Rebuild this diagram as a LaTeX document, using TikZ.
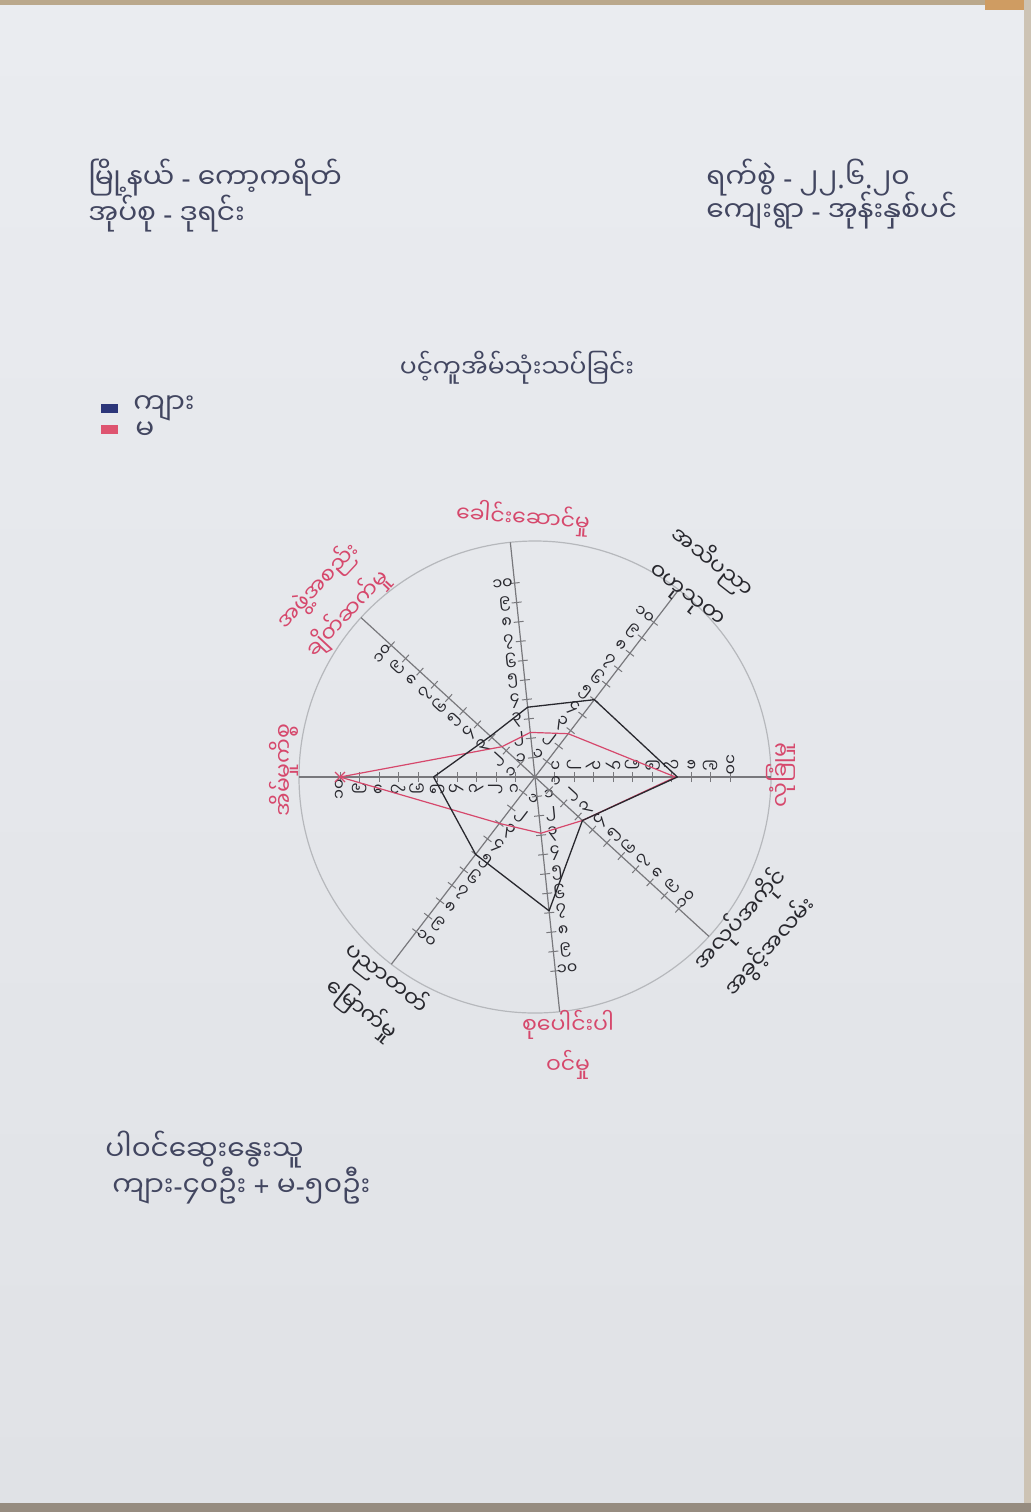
\documentclass[tikz,border=0pt]{standalone}
\usepackage{fontspec}
\usetikzlibrary{calc}
\newfontfamily\mm[Script=Myanmar]{Noto Sans Myanmar UI}
\newfontfamily\lat{Noto Sans}
\definecolor{papertop}{RGB}{234,236,240}
\definecolor{paperbot}{RGB}{224,226,230}
\definecolor{ink}{RGB}{66,70,96}
\definecolor{redink}{RGB}{214,72,108}
\definecolor{pencil}{RGB}{120,120,124}
\definecolor{circ}{RGB}{182,184,188}
\definecolor{blk}{RGB}{40,40,46}
\definecolor{legblue}{RGB}{44,54,122}
\definecolor{legred}{RGB}{222,84,112}
\definecolor{tan}{RGB}{186,168,140}
\definecolor{edge}{RGB}{150,140,128}
\begin{document}
\begin{tikzpicture}[x=0.5pt,y=-0.5pt,
  hand/.style={font=\mm\fontsize{14}{16}\selectfont, text=ink, inner sep=0pt},
  lbl/.style={font=\mm\fontsize{11}{20}\selectfont, inner sep=0pt, align=center},
  redlbl/.style={lbl, text=redink},
  blklbl/.style={lbl, text=blk},
  digit/.style={font=\mm\fontsize{8}{9}\selectfont, text=blk, inner sep=0pt},
  axisline/.style={draw=pencil, line width=0.6pt},
  tickline/.style={draw=pencil, line width=0.5pt},
  blkpoly/.style={draw=blk, line width=0.65pt, line join=round},
  redpoly/.style={draw=redink, line width=0.6pt, line join=round}]
\useasboundingbox (0,0) rectangle (1031,1512);
\shade[top color=papertop, bottom color=paperbot] (0,0) rectangle (1031,1512);
\fill[tan] (0,0) rectangle (1031,5);
\fill[tan!70!orange] (985,0) rectangle (1031,10);
\fill[tan!60!papertop] (1024,0) rectangle (1031,1512);
\fill[edge] (0,1503) rectangle (1031,1512);

% header
\node[hand, anchor=west] (town) at (88,178) {မြို့နယ် {\lat -} ကော့ကရိတ်};
\node[hand, anchor=west] (tract) at (88,214) {အုပ်စု {\lat -} ဒုရင်း};
\node[hand, anchor=west] (date) at (706,178) {ရက်စွဲ {\lat -} ၂၂{\lat .}၆{\lat .}၂၀};
\node[hand, anchor=west] (village) at (706,211) {ကျေးရွာ {\lat -} အုန်းနှစ်ပင်};
\node[hand, font=\mm\fontsize{12.5}{14}\selectfont] (title) at (517,368) {ပင့်ကူအိမ်သုံးသပ်ခြင်း};

% legend
\fill[legblue] (101,404) rectangle (118,413);
\fill[legred] (101,425) rectangle (118,434);
\node[hand, anchor=west] (male) at (133,408) {ကျား};
\node[hand, anchor=west] (female) at (135,431) {မ};

% chart
\coordinate (O) at (535,777);
\draw[draw=circ, line width=0.6pt] (O) circle [radius=236];
\foreach \i/\a/\r in {1/0/-90, 2/52.5/-37.5, 3/96/6, 4/137.5/47.5, 5/180/90, 6/232.5/-37.5, 7/276/6, 8/317.5/47.5} {
  \coordinate (ax\i) at ($(O)+({236*cos(\a)},{-236*sin(\a)})$);
  \draw[axisline] (O) -- (ax\i);
  \foreach \k/\d in {1/၁, 2/၂, 3/၃, 4/၄, 5/၅, 6/၆, 7/၇, 8/၈, 9/၉, 10/၁၀} {
    \coordinate (t\i-\k) at ($(O)+({\k*19.5*cos(\a)},{-\k*19.5*sin(\a)})$);
    \draw[tickline] ($(t\i-\k)+({5*sin(\a)},{5*cos(\a)})$) -- ($(t\i-\k)+({-5*sin(\a)},{-5*cos(\a)})$);
    \node[digit, rotate=\r] (n\i-\k) at ($(t\i-\k)+({-12*sin(\a)},{-12*cos(\a)})$) {\d};
  }
}
\foreach \i/\a/\vb/\vr in {1/0/7.3/7.2, 2/52.5/5/2.8, 3/96/3.6/2.3, 4/137.5/3.1/2.3, 5/180/5.2/10, 6/232.5/5/3, 7/276/6.9/2.9, 8/317.5/3.3/3.3} {
  \coordinate (b\i) at ($(O)+({\vb*19.5*cos(\a)},{-\vb*19.5*sin(\a)})$);
  \coordinate (r\i) at ($(O)+({\vr*19.5*cos(\a)},{-\vr*19.5*sin(\a)})$);
}
\draw[redpoly] (r1) -- (r2) -- (r3) -- (r4) -- (r5) -- (r6) -- (r7) -- (r8) -- cycle;
\draw[blkpoly] (b1) -- (b2) -- (b3) -- (b4) -- (b5) -- (b6) -- (b7) -- (b8) -- cycle;
\draw[redpoly] ($(r5)+(-5,-5)$) -- ($(r5)+(5,5)$) ($(r5)+(-5,5)$) -- ($(r5)+(5,-5)$);

% axis labels
\node[redlbl, rotate=-4] (lN) at (523,518) {ခေါင်းဆောင်မှု};
\node[blklbl, rotate=-38] (lNE) at (700,578) {အသိပညာ\\ဝဟုသုတ};
\node[redlbl, rotate=90] (lE) at (781,775) {လုံခြုံမှု};
\node[blklbl, rotate=48] (lSE) at (755,933) {အလုပ်အကိုင်\\အခွင့်အလမ်း};
\node[redlbl] (lS) at (568,1045) {စုပေါင်းပါ\\ဝင်မှု};
\node[blklbl, rotate=-38] (lSW) at (374,994) {ပညာတတ်\\မြောက်မှု};
\node[redlbl, rotate=90] (lW) at (284,770) {အိမ်မှုကိစ္စ};
\node[redlbl, rotate=47] (lNW) at (333,600) {အဖွဲ့အစည်း\\ချိတ်ဆက်မှု};

% participants
\node[hand, anchor=west] (part) at (105,1150) {ပါဝင်ဆွေးနွေးသူ};
\node[hand, anchor=west] (count) at (112,1186) {ကျား{\lat -}၄၀ဦး {\lat +} မ{\lat -}၅၀ဦး};
\end{tikzpicture}
\end{document}
